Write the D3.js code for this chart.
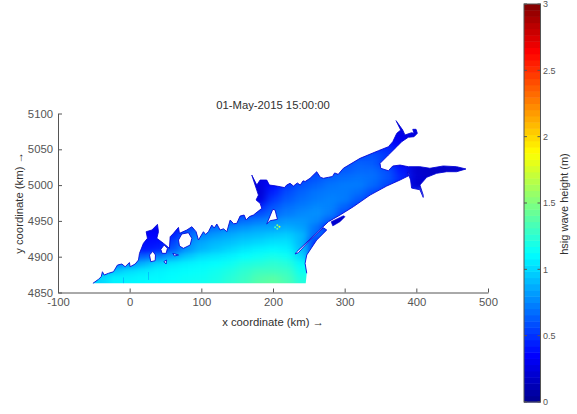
<!DOCTYPE html>
<html>
<head>
<meta charset="utf-8">
<script src="https://cdn.jsdelivr.net/npm/d3@7"></script>
<style>
html,body{margin:0;padding:0;background:#fff}
svg{display:block}
text{font-family:"Liberation Sans",Arial,sans-serif}
</style>
</head>
<body>
<svg id="c" width="577" height="414"></svg>
<script>
// ---- text and ticks
const chartTitle = "01-May-2015 15:00:00";
const xLabel = "x coordinate (km) \u2192";
const yLabel = "y coordinate (km) \u2192";
const colorbarLabel = "hsig wave height (m)";
const xTicks = [-100, 0, 100, 200, 300, 400, 500];
const yTicks = [4850, 4900, 4950, 5000, 5050, 5100];
const cbTicks = [0, 0.5, 1, 1.5, 2, 2.5, 3];

// ---- water outline: [x km, y km], along the shore from the SW corner to the S edge
const shore = [
[-51.3,4862.8],[-43.5,4868.4],[-39.7,4872],[-38,4879],[-35.6,4874.4],[-29.6,4876.8],[-22.6,4879],[-17,4888.4],
[-10.9,4889.8],[-6.3,4886],[-0.3,4891.9],[0.7,4886],[7.7,4889.8],[12.3,4895.4],[13.7,4904.7],[19.2,4918.7],
[24.8,4925.7],[23,4934.9],[31,4937.3],[38.8,4945.2],[40.2,4934.9],[37.9,4925.7],[47.1,4918.7],[55.5,4911.7],
[56.5,4927.9],[61.1,4932.6],[68.1,4941],[69.5,4932.6],[79.8,4937.3],[86.8,4941.9],[92.7,4934.9],[96,4923.3],
[102.9,4934.9],[106,4931],[109.9,4934.9],[114.6,4944.2],[118,4940],[121.6,4945.7],[126.2,4937.3],[131,4939],[135.6,4934.9],[140.2,4951.3],
[145,4946],[149.5,4946.6],[154.1,4956.8],[159.7,4958.2],[162.5,4951.3],[167,4956],[172.7,4958.2],[184.4,4967.5],[182,4974.5],
[176.4,4979.2],[179.7,4986],[170.4,5014],[177.4,5000.1],[182,5007.1],[191.3,5007.1],[195,5000.1],[203,4999],[209.9,4997.8],
[216,4996.5],[219,5000],[223.8,5002.5],[228.5,4998.7],[234,5003],[238,5000],[242,5006],[244.8,5005],[251.7,5009.5],[261,5018.7],[266,5011],[270.3,5009.5],[277.3,5010.9],[283,5012],[286,5017],[291,5015],[298.2,5023.5],
[321.5,5037.4],[347,5048],[361,5053.6],[367.1,5060.6],[372.7,5072.3],[378.2,5076.9],[371.7,5090],[381,5076.9],
[384.1,5070],[393.4,5073.2],[396.8,5072.3],[395,5077.9],[399.6,5077.9],[401.4,5072.3],[396.8,5067.6],[388.8,5066.8],
[379.6,5060.6],[372.7,5053.6],[361,5042],[349.4,5030.4],[350.3,5023.5],[361,5020.1],[367.1,5026.7],[377.3,5028],
[388.8,5025.7],[405,5025.7],[418.9,5023.5],[437.6,5026.7],[456.2,5025.7],[469.3,5022.5],[456.2,5018.7],[442.4,5018.7],
[428.5,5016.5],[414.5,5010.9],[405,5000.1],[409.6,4986],[409.6,4982.8],[405,4993.5],[393.4,4995.8],[392,5007.1],
[388,5018],[391.2,5014],[377.3,5007.1],[358.7,4998.7],[335.4,4986],[312.1,4969.8],[293.6,4958.2],[277.3,4948.9],
[233.2,4907],[230.8,4903.8],[235.4,4905.6],[251.7,4923.3],[270.3,4940.5],[275,4937.3],[261,4923.3],[247.1,4902.4],
[244.8,4890.8],[247.1,4876.8],[245.7,4862.8]
];
// land inside the water
const holes = [
[[68.1,4923.3],[72.8,4931.7],[82,4933.5],[86.7,4925.7],[84.4,4916.3],[75,4911.7],[69.5,4914.9]],
[[43.5,4910.3],[48.1,4916.3],[52.7,4911.7],[50.9,4904.7],[45.3,4904.7]],
[[27.7,4902.4],[32.3,4907.5],[36,4902.4],[35.6,4894.5],[29.5,4893]],
[[60.2,4904.7],[68.1,4902.4],[62.5,4901]],
[[47.7,4893],[51.3,4895.4],[50.9,4889.8]],
[[191.3,4945.7],[199.7,4966.2],[202.9,4965.2],[206.2,4952.2],[196,4950.3]]
];
// separate water body
const channelWater = [[281,4948.9],[298.2,4957.3],[300.6,4955.9],[293.6,4948.9],[283.4,4942.9]];
const channelWave = 0.2;
// small shoal with locally high waves: [x km, y km, hsig m]
const shoal = [[206,4944,1.55],[209,4942,1.8],[206,4939,1.45],[203,4941,1.3]];
// short sheltered streaks behind river mouths: [x km, y top km, y bottom km]
const streaks = [[-8.6,4871,4863],[26.2,4878.6,4867.5]];

// ---- hsig (m): one row per y, first value at the given x, 20 km steps
const rowY =      [5090,5080,5070,5060,5050,5040,5030,5020,5010,5000,4990,4980,4970,4960,4950,4940,4930,4920,4910,4900,4890,4880,4870,4860];
const rowStartX = [360,360,360,340,320,300,280,180,160,160,160,160,140,120,80,40,20,0,0,-20,-40,-60,-60,-60];
const hsigRows = [
[.25,.25],
[.25,.25,.25],
[.3,.28,.25],
[.4,.38,.3,.25],
[.5,.52,.48,.38],
[.5,.58,.6,.52,.42,.25],
[.5,.58,.64,.62,.48,.32,.22,.2,.2,.2,.2],
[.25,.3,.42,.5,.52,.58,.62,.66,.66,.58,.42,.2,.18,.18,.2,.2],
[.25,.25,.34,.5,.55,.6,.65,.68,.7,.68,.6,.46,.22,.18],
[.25,.25,.38,.52,.6,.65,.7,.72,.72,.66,.56,.42,.2,.18],
[.25,.22,.45,.58,.65,.7,.72,.72,.68,.58,.48],
[.25,.25,.52,.62,.68,.72,.74,.72,.62,.5],
[.4,.4,.45,.6,.68,.72,.76,.74,.65,.52],
[.45,.48,.52,.58,.66,.72,.76,.78,.72,.55],
[.45,.5,.58,.62,.68,.72,.76,.8,.8,.76,.62,.4],
[.3,.35,.55,.65,.7,.76,.8,.84,.85,.88,.84,.7,.4],
[.35,.35,.45,.65,.75,.82,.86,.9,.92,.95,.97,.9,.65],
[.5,.38,.4,.55,.75,.85,.9,.93,.97,1,1.03,1.03,.9,.5],
[.55,.42,.45,.62,.8,.9,.95,1,1.05,1.08,1.1,1.08,.92,.5],
[.55,.6,.65,.74,.85,.95,1.02,1.05,1.08,1.12,1.15,1.18,1.15,1,.6],
[.6,.7,.78,.9,1,1.05,1.08,1.1,1.12,1.15,1.2,1.22,1.25,1.22,1.1],
[.8,.82,.95,1.02,1.05,1.08,1.1,1.12,1.13,1.16,1.2,1.25,1.3,1.3,1.28,1.15],
[.95,1,1.08,1.08,1.1,1.1,1.12,1.14,1.15,1.18,1.23,1.28,1.35,1.38,1.32,1.2],
[.95,1,1.08,1.1,1.1,1.12,1.13,1.15,1.17,1.2,1.25,1.3,1.38,1.4,1.35,1.22]
];
const gridStep = {x: 20, y: 10};

// ---- scales
const x = d3.scaleLinear().domain([-100, 500]).range([58, 488]);
const y = d3.scaleLinear().domain([4850, 5100]).range([292.5, 113.5]);
const jet = d3.scaleLinear()
  .domain([0, .117, .372, .627, .88, 1])
  .range(["#00008f", "#0000ff", "#00ffff", "#ffff00", "#ff0000", "#800000"])
  .clamp(true);
const hsigColor = v => jet(v / 3);
const cb = d3.scaleLinear().domain([0, 3]).range([402, 4]);

const svg = d3.select("#c");
const ink = "#555555";
const labelInk = "#303030";
const defs = svg.append("defs");
const blur = defs.append("filter").attr("id", "soft")
  .attr("x", "-5%").attr("y", "-5%").attr("width", "110%").attr("height", "110%")
  .attr("color-interpolation-filters", "sRGB");
blur.append("feGaussianBlur").attr("stdDeviation", "4 2.5");
const edge = defs.append("filter").attr("id", "edge")
  .attr("x", "-5%").attr("y", "-5%").attr("width", "110%").attr("height", "110%")
  .attr("color-interpolation-filters", "sRGB");
edge.append("feGaussianBlur").attr("stdDeviation", ".35");

const line = d3.line().x(d => x(d[0])).y(d => y(d[1]));
const closed = d3.line().x(d => x(d[0])).y(d => y(d[1])).curve(d3.curveLinearClosed);
const waterPath = closed(shore) + holes.map(h => closed(h)).join("");

defs.append("clipPath").attr("id", "water").append("path")
  .attr("d", waterPath).attr("clip-rule", "evenodd");

// ---- field
const map = svg.append("g").attr("filter", "url(#edge)");
const field = map.append("g").attr("clip-path", "url(#water)").append("g").attr("filter", "url(#soft)");
const cells = hsigRows.flatMap((row, r) => row.map((v, i) => ({
  cx: rowStartX[r] + i * gridStep.x, cy: rowY[r], v, first: i === 0, last: i === row.length - 1, bottom: r === hsigRows.length - 1, top: r === 0
})));
field.selectAll("rect").data(cells).join("rect")
  .attr("x", d => x(d.cx - gridStep.x * (d.first ? 2.5 : .5)))
  .attr("width", d => x(d.cx + gridStep.x * (d.last ? 2.5 : .5)) - x(d.cx - gridStep.x * (d.first ? 2.5 : .5)) + .5)
  .attr("y", d => y(d.cy + gridStep.y * (d.top ? 2.5 : .5)))
  .attr("height", d => y(d.cy - gridStep.y * (d.bottom ? 3.5 : .5)) - y(d.cy + gridStep.y * (d.top ? 2.5 : .5)) + .5)
  .attr("fill", d => hsigColor(d.v));

// ---- shore fringe
const fringe = map.append("g").attr("fill", "none").attr("stroke", hsigColor(.22)).attr("stroke-width", 1).attr("stroke-linejoin", "round").attr("opacity", .85);
fringe.append("path").attr("d", line(shore.slice(0, -1)));
fringe.selectAll(".h").data(holes).join("path").attr("class", "h").attr("d", d => closed(d));
map.append("path").attr("d", closed(channelWater)).attr("fill", hsigColor(channelWave)).attr("stroke", hsigColor(channelWave)).attr("stroke-width", .5);
map.selectAll(".streak").data(streaks).join("line").attr("class", "streak")
  .attr("x1", d => x(d[0])).attr("x2", d => x(d[0])).attr("y1", d => y(d[1])).attr("y2", d => y(d[2]))
  .attr("stroke", hsigColor(.7)).attr("stroke-width", .8).attr("opacity", .5);
map.selectAll(".shoal").data(shoal).join("circle").attr("class", "shoal")
  .attr("cx", d => x(d[0])).attr("cy", d => y(d[1])).attr("r", 1).attr("fill", d => hsigColor(d[2]));

// ---- axes
const xAxis = svg.append("g").attr("transform", `translate(0,${y(4850)})`)
  .call(d3.axisBottom(x).tickValues(xTicks).tickSize(-4).tickSizeOuter(0).tickPadding(5).tickFormat(d => String(d)));
const yAxis = svg.append("g").attr("transform", `translate(${x(-100)},0)`)
  .call(d3.axisLeft(y).tickValues(yTicks).tickSize(-4).tickSizeOuter(0).tickPadding(5).tickFormat(d => String(d)));
[xAxis, yAxis].forEach(a => {
  a.selectAll("path,line").attr("stroke", ink);
  a.selectAll("text").attr("fill", ink).attr("font-size", 11.3).attr("font-family", '"Liberation Sans",Arial,sans-serif');
});
svg.append("text").text(chartTitle).attr("x", 273).attr("y", 109).attr("text-anchor", "middle").attr("font-size", 11.3).attr("fill", labelInk);
svg.append("text").text(xLabel).attr("x", 273).attr("y", 326).attr("text-anchor", "middle").attr("font-size", 11.3).attr("fill", labelInk);
svg.append("text").text(yLabel).attr("transform", "translate(23,203) rotate(-90)").attr("text-anchor", "middle").attr("font-size", 11.3).attr("fill", labelInk);

// ---- colorbar
const cbX = 524, cbW = 16.5;
const steps = d3.range(64);
svg.append("g").selectAll("rect").data(steps).join("rect")
  .attr("x", cbX).attr("width", cbW)
  .attr("y", d => cb((d + 1) * 3 / 64)).attr("height", d => cb(d * 3 / 64) - cb((d + 1) * 3 / 64) + .5)
  .attr("fill", d => jet((d + .5) / 64));
svg.append("rect").attr("x", cbX).attr("y", cb(3)).attr("width", cbW).attr("height", cb(0) - cb(3)).attr("fill", "none").attr("stroke", ink);
const cbG = svg.append("g").selectAll("g").data(cbTicks).join("g");
cbG.append("line").attr("x1", cbX).attr("x2", cbX + 3).attr("y1", d => cb(d)).attr("y2", d => cb(d)).attr("stroke", ink);
cbG.append("line").attr("x1", cbX + cbW - 3).attr("x2", cbX + cbW).attr("y1", d => cb(d)).attr("y2", d => cb(d)).attr("stroke", ink);
cbG.append("text").text(d => d).attr("x", cbX + cbW + 2.5).attr("y", d => cb(d) + 3.2).attr("font-size", 9).attr("fill", ink);
svg.append("text").text(colorbarLabel).attr("transform", "translate(568,204) rotate(-90)").attr("text-anchor", "middle").attr("font-size", 11).attr("fill", labelInk);
</script>
</body>
</html>
